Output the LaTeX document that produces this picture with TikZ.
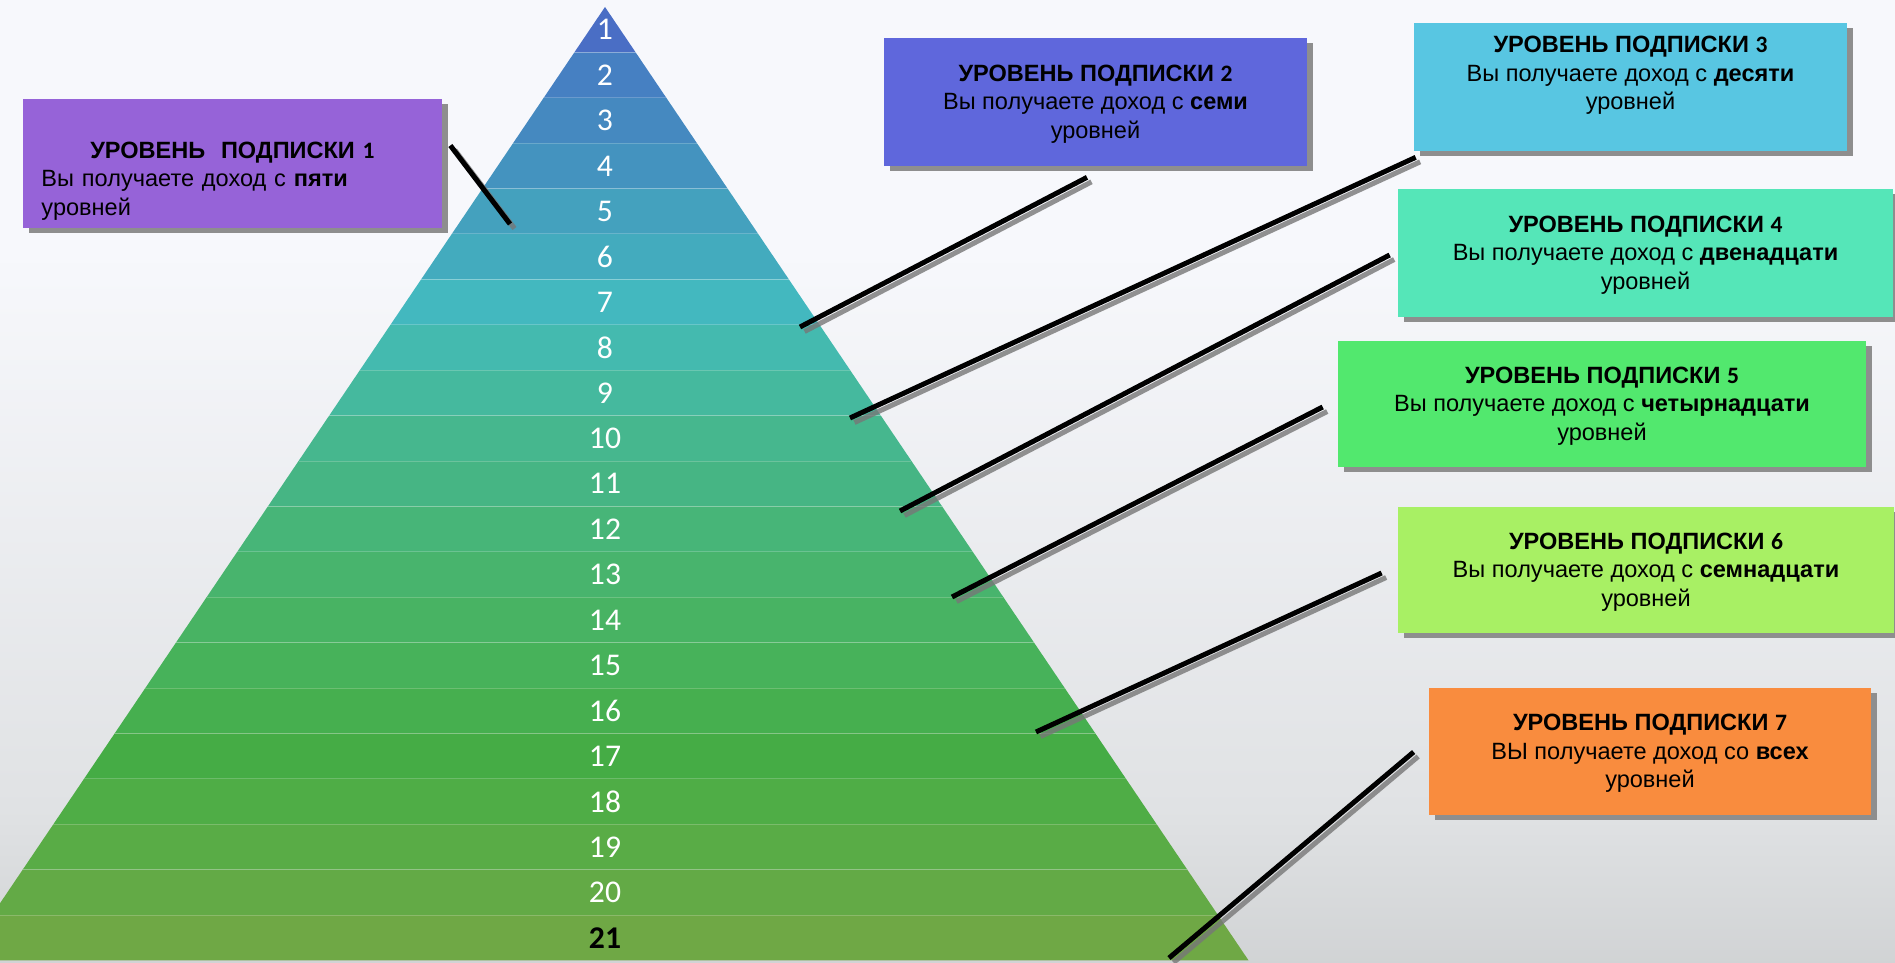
\documentclass[tikz,border=0pt]{standalone}
\usepackage{fontspec}
\setmainfont{Liberation Sans}
\newfontfamily\calibrifont{Carlito}
\usepackage{tikz}
\usetikzlibrary{shadows}
\definecolor{PyrBgTop}{HTML}{F7F8FC}
\definecolor{PyrBgMid}{HTML}{E0E2E4}
\definecolor{PyrBgLow}{HTML}{A2A5A5}
\definecolor{PyrShadow}{HTML}{8E8E8E}
\definecolor{PyrLink}{HTML}{000000}
\definecolor{PyrLinkShade}{HTML}{777777}
\definecolor{PyrBoxA}{HTML}{9663D8}
\definecolor{PyrBoxB}{HTML}{5F67DC}
\definecolor{PyrBoxC}{HTML}{58C6E2}
\definecolor{PyrBoxD}{HTML}{55E6B8}
\definecolor{PyrBoxE}{HTML}{52E86E}
\definecolor{PyrBoxF}{HTML}{A8F064}
\definecolor{PyrBoxG}{HTML}{F98C3E}
\definecolor{PyrRow1}{HTML}{4A6EC5}
\definecolor{PyrRow2}{HTML}{4680C2}
\definecolor{PyrRow3}{HTML}{4589C0}
\definecolor{PyrRow4}{HTML}{4493BF}
\definecolor{PyrRow5}{HTML}{44A1BE}
\definecolor{PyrRow6}{HTML}{43ABBE}
\definecolor{PyrRow7}{HTML}{43B8BF}
\definecolor{PyrRow8}{HTML}{44BAAF}
\definecolor{PyrRow9}{HTML}{45B99E}
\definecolor{PyrRow10}{HTML}{46B78E}
\definecolor{PyrRow11}{HTML}{46B584}
\definecolor{PyrRow12}{HTML}{47B578}
\definecolor{PyrRow13}{HTML}{48B46D}
\definecolor{PyrRow14}{HTML}{48B363}
\definecolor{PyrRow15}{HTML}{47B25A}
\definecolor{PyrRow16}{HTML}{46AF4F}
\definecolor{PyrRow17}{HTML}{45AC45}
\definecolor{PyrRow18}{HTML}{4FAD46}
\definecolor{PyrRow19}{HTML}{59AC46}
\definecolor{PyrRow20}{HTML}{63AA46}
\definecolor{PyrRow21}{HTML}{6FA845}
\pgfdeclareverticalshading{pyrbackdrop}{100bp}{color(0bp)=(PyrBgLow); color(33bp)=(PyrBgMid); color(62bp)=(PyrBgTop); color(100bp)=(PyrBgTop)}

\begin{document}
\begin{tikzpicture}[x=0.2mm,y=-0.2mm,font=\fontsize{13.4}{16.2}\selectfont,
  pyrbox/.style={inner sep=0pt,drop shadow={shadow xshift=1.2mm,shadow yshift=-1mm,fill=PyrShadow,opacity=1}},
  pyrtext/.style={inner sep=0pt,align=center,text=black},
  rownum/.style={inner sep=0pt,text=white,font=\calibrifont\fontsize{18}{20}\selectfont},
  rowline/.style={draw=white,draw opacity=0.2,line width=0.2mm},
  link/.style={draw=PyrLink,line width=1mm},
  linkshade/.style={draw=PyrLinkShade,draw opacity=0.8,line width=1mm,transform canvas={xshift=0.9mm,yshift=-0.9mm}}]
\useasboundingbox (0,0) rectangle (1895,963);
\clip (0,0) rectangle (1895,963);
\fill[shading=pyrbackdrop] (0,0) rectangle (1895,963);
% pyramid, one band per level
\foreach \rowcol [count=\k from 0] in {PyrRow1,PyrRow2,PyrRow3,PyrRow4,PyrRow5,PyrRow6,PyrRow7,PyrRow8,PyrRow9,PyrRow10,PyrRow11,PyrRow12,PyrRow13,PyrRow14,PyrRow15,PyrRow16,PyrRow17,PyrRow18,PyrRow19,PyrRow20,PyrRow21}
  \fill[fill=\rowcol] ({605-30.645*\k},{7+45.4*\k}) -- ({605+30.645*\k},{7+45.4*\k}) -- ({605+30.645*(\k+1)},{7+45.4*(\k+1)}) -- ({605-30.645*(\k+1)},{7+45.4*(\k+1)}) -- cycle;
\foreach \k in {1,...,20}
  \draw[rowline] ({605-30.645*\k},{7+45.4*\k}) -- ({605+30.645*\k},{7+45.4*\k});
\foreach \i in {1,...,20}
  \node[rownum] (n\i) at (605,{7+45.4*(\i-0.5)}) {\i};
\node[rownum,text=black,font=\calibrifont\bfseries\fontsize{18}{20}\selectfont] (n21) at (605,{7+45.4*20.5}) {21};
% subscription boxes
\node[pyrbox,fill=PyrBoxA,minimum width=83.8mm,minimum height=25.8mm] (b1) at (232.5,163.5) {};
\node[pyrbox,fill=PyrBoxB,minimum width=84.6mm,minimum height=25.6mm] (b2) at (1095.5,102) {};
\node[pyrbox,fill=PyrBoxC,minimum width=86.6mm,minimum height=25.6mm] (b3) at (1630.5,87) {};
\node[pyrbox,fill=PyrBoxD,minimum width=99mm,minimum height=25.6mm] (b4) at (1645.5,253) {};
\node[pyrbox,fill=PyrBoxE,minimum width=105.6mm,minimum height=25.2mm] (b5) at (1602,404) {};
\node[pyrbox,fill=PyrBoxF,minimum width=99.2mm,minimum height=25.2mm] (b6) at (1646,570) {};
\node[pyrbox,fill=PyrBoxG,minimum width=88.4mm,minimum height=25.4mm] (b7) at (1650,751.5) {};
\node[pyrtext,align=left,text width=76.4mm] (t1) at ([yshift=-3.5mm]b1.center) {\makebox[\linewidth][c]{\bfseries УРОВЕНЬ\ \ ПОДПИСКИ {\calibrifont 1}}\\Вы получаете доход с \textbf{пяти}\\уровней};
\node[pyrtext] (t2) at ([yshift=-0.4mm]b2.center) {\textbf{УРОВЕНЬ ПОДПИСКИ {\calibrifont 2}}\\Вы получаете доход с \textbf{семи}\\уровней};
\node[pyrtext] (t3) at ([yshift=2.3mm]b3.center) {\textbf{УРОВЕНЬ ПОДПИСКИ {\calibrifont 3}}\\Вы получаете доход с \textbf{десяти}\\уровней};
\node[pyrtext] (t4) at ([yshift=-0.4mm]b4.center) {\textbf{УРОВЕНЬ ПОДПИСКИ {\calibrifont 4}}\\Вы получаете доход с \textbf{двенадцати}\\уровней};
\node[pyrtext] (t5) at ([yshift=-0.4mm]b5.center) {\textbf{УРОВЕНЬ ПОДПИСКИ {\calibrifont 5}}\\Вы получаете доход с \textbf{четырнадцати}\\уровней};
\node[pyrtext] (t6) at ([yshift=-0.4mm]b6.center) {\textbf{УРОВЕНЬ ПОДПИСКИ {\calibrifont 6}}\\Вы получаете доход с \textbf{семнадцати}\\уровней};
\node[pyrtext] (t7) at ([yshift=-0.4mm]b7.center) {\textbf{УРОВЕНЬ ПОДПИСКИ {\calibrifont 7}}\\ВЫ получаете доход со \textbf{всех}\\уровней};
% connector ends
\coordinate (s1) at ([shift={(8,-18)}]b1.east);   \coordinate (p1) at (510,224);
\coordinate (s2) at ([shift={(-8.5,11)}]b2.south); \coordinate (p2) at (800,327);
\coordinate (s3) at ([shift={(2,6)}]b3.south west); \coordinate (p3) at (850,418);
\coordinate (s4) at ([shift={(-8,2)}]b4.west);     \coordinate (p4) at (900,511);
\coordinate (s5) at ([shift={(-15,3)}]b5.west);    \coordinate (p5) at (952,597);
\coordinate (s6) at ([shift={(-16,3)}]b6.west);    \coordinate (p6) at (1036,732);
\coordinate (s7) at ([shift={(-15,0.5)}]b7.west);  \coordinate (p7) at (1169,958);
\foreach \j in {1,...,7} {
  \draw[linkshade] (s\j) -- (p\j);
  \draw[link] (s\j) -- (p\j);
}
\end{tikzpicture}
\end{document}
